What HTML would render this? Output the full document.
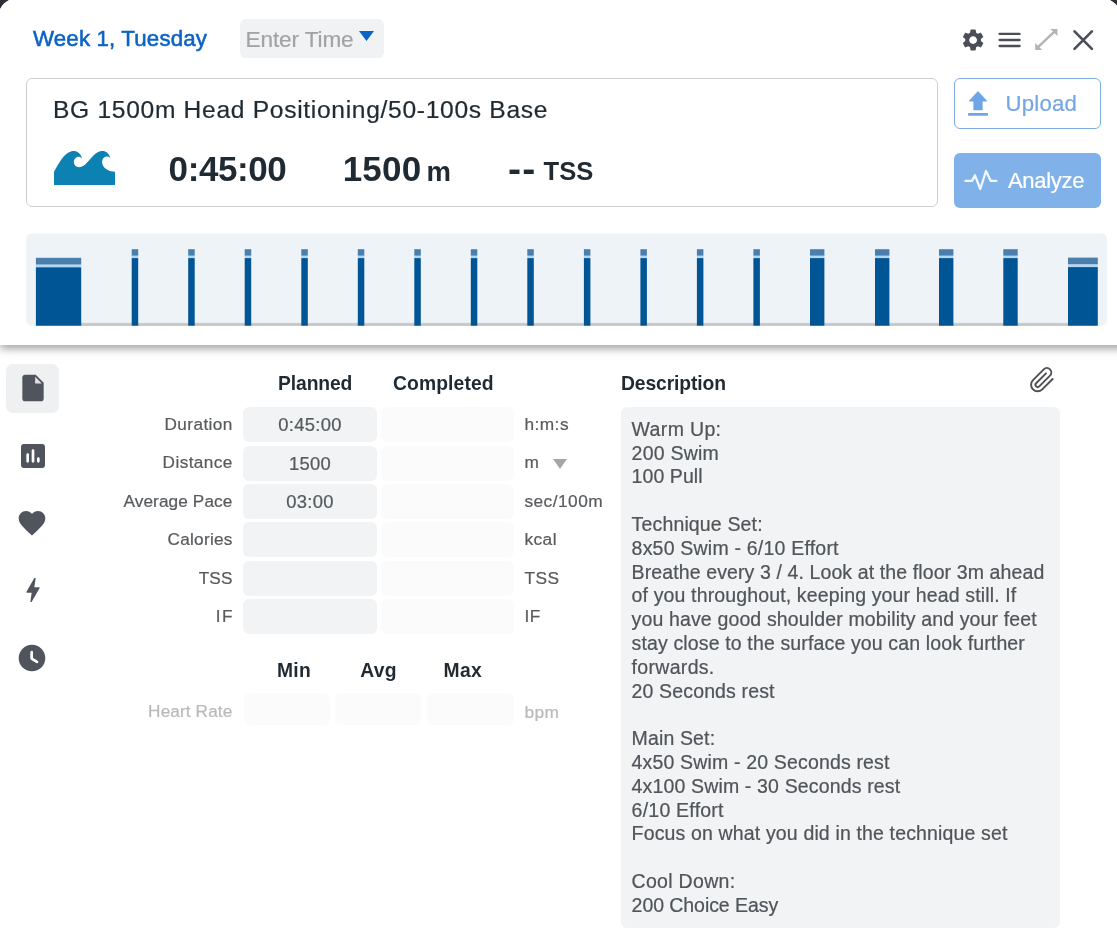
<!DOCTYPE html>
<html lang="en">
<head>
<meta charset="utf-8">
<title>Workout</title>
<style>
*{box-sizing:border-box;margin:0;padding:0}
html,body{width:1117px;height:935px;overflow:hidden;background:#2e2e34}
body{font-family:"Liberation Sans",Arial,sans-serif;color:#1f2a33;position:relative}
.abs{position:absolute}
.lab,.unit,.inp,#desctext,#title,#etime .t,#upload .t,#analyze .t{-webkit-text-stroke-width:.22px}
#modal{position:absolute;left:-2.3px;top:-2.3px;width:1122.9px;height:960px;background:#fff;border-radius:20px 20px 0 0;overflow:hidden}
#wrap{position:absolute;left:2.3px;top:1.3px;width:1120px;height:950px}
#head{position:absolute;left:0;top:0;width:1140px;height:346px;background:#fff;box-shadow:0 4px 8px rgba(0,0,0,.35);z-index:2}
#body{position:absolute;left:0;top:346px;width:1120px;height:604px;background:#fff;z-index:1}
.t{position:absolute;white-space:nowrap;line-height:1}
#week{left:33px;top:28.5px;font-size:22.3px;color:#0b63c5;letter-spacing:.15px;-webkit-text-stroke:.55px #0b63c5}
#etime{left:240px;top:20px;width:144px;height:39px;background:#f0f2f4;border-radius:6px}
#etime .t{left:5.5px;top:10px;font-size:22.6px;color:#a3a3a3;letter-spacing:-.12px}
#card{left:26px;top:79px;width:912px;height:129px;border:1px solid #cfcfcf;border-radius:6px;background:#fff}
#title{left:53px;top:98.5px;font-size:24.6px;letter-spacing:.69px;color:#1f2a33}
.big{font-weight:700;font-size:35px;letter-spacing:-.4px;color:#1f2a33}
#upload{left:954px;top:79px;width:147px;height:51px;border:1px solid #7fadde;border-radius:6px;background:#fff}
#analyze{left:954px;top:154px;width:147px;height:55px;border-radius:6px;background:#80b2e9}
#chart{left:26px;top:234px;width:1082px;height:94px}
.lab{position:absolute;white-space:nowrap;line-height:1;font-size:17.2px;letter-spacing:.12px;color:#585b5e;text-align:right;right:887.6px}
.inp{position:absolute;height:35.1px;border-radius:6px;background:#f1f3f4;text-align:center;font-size:18.4px;color:#555a5e;line-height:35.4px;letter-spacing:.3px}
.cmp{background:#fbfbfb}
.unit{position:absolute;white-space:nowrap;line-height:1;font-size:17.3px;color:#585b5e;left:524.4px;letter-spacing:.47px}
.hd{position:absolute;white-space:nowrap;line-height:1;font-size:19.3px;font-weight:700;color:#1f2a33;letter-spacing:-.1px}
#desc{left:621px;width:439.3px;height:520.6px;background:#f1f3f5;border-radius:6px}
#desctext{position:absolute;left:10.6px;top:0;font-size:19.5px;line-height:24px;color:#50555a;white-space:nowrap;letter-spacing:.3px}
#desctext span{position:absolute;left:0;display:block;height:24px;line-height:24px}
</style>
</head>
<body>
<div id="modal"><div id="wrap">
 <div id="head">
  <div id="week" class="t">Week 1, Tuesday</div>
  <div id="etime" class="abs"><div class="t">Enter Time</div>
   <svg class="abs" style="left:118.5px;top:12px" width="15" height="10" viewBox="0 0 15 10"><path d="M0 0h15L7.5 10z" fill="#0b63c5"/></svg>
  </div>
  <svg class="abs" style="left:960px;top:27.6px" width="26.2" height="26.2" viewBox="0 0 24 24"><path fill="#4b4e57" d="M19.14 12.94c.04-.3.06-.61.06-.94 0-.32-.02-.64-.07-.94l2.030-1.580a.49.49 0 0 0 .12-.61l-1.920-3.320a.488.488 0 0 0-.59-.22l-2.390.96c-.5-.38-1.030-.7-1.620-.94l-.36-2.540a.484.484 0 0 0-.48-.41h-3.840c-.24 0-.43.17-.47.41l-.36 2.540c-.59.24-1.130.57-1.620.94l-2.390-.96c-.22-.08-.47 0-.59.22L2.740 8.870c-.12.21-.08.47.12.61l2.030 1.580c-.05.3-.09.63-.09.940s.02.640.07.940l-2.030 1.580a.49.49 0 0 0-.12.610l1.920 3.320c.12.220.37.290.59.220l2.390-.960c.5.380 1.030.700 1.620.940l.36 2.540c.05.240.24.410.48.410h3.840c.24 0 .44-.17.470-.410l.36-2.540c.59-.24 1.130-.56 1.620-.940l2.390.960c.22.080.47 0 .59-.220l1.920-3.320c.12-.220.070-.470-.12-.610l-2.010-1.580zM12 15.600c-1.980 0-3.600-1.620-3.600-3.600s1.620-3.600 3.600-3.600 3.600 1.620 3.600 3.600-1.620 3.600-3.600 3.600z"/></svg>
  <svg class="abs" style="left:998px;top:33px" width="23" height="16" viewBox="0 0 23 16"><path d="M1.600 1.900H21.600M1.600 8H21.600M1.600 14H21.600" stroke="#4b4e57" stroke-width="2.3" stroke-linecap="round"/></svg>
  <svg class="abs" style="left:1034px;top:28.5px" width="25" height="23" viewBox="0 0 25 23"><path d="M4 19.200L20.400 3.700" stroke="#b3b3b3" stroke-width="2.4"/><path d="M23.400 1V8L16.400 1ZM1.200 22V15L8.200 22Z" fill="#b3b3b3"/></svg>
  <svg class="abs" style="left:1072px;top:29.5px" width="22" height="22" viewBox="0 0 22 22"><path d="M2.500 2.400L19.900 19.800M19.900 2.400L2.500 19.800" stroke="#4b4e57" stroke-width="2.6" stroke-linecap="round"/></svg>
  <div id="card" class="abs"></div>
  <div id="title" class="t">BG 1500m Head Positioning/50-100s Base</div>
  <svg class="abs" style="left:54px;top:151.7px" width="61" height="34.5" viewBox="0 0 61 34" preserveAspectRatio="none"><path d="M0 34V20.4C5 12 9 5 13 2.5C16 0.5 18 0 20 0C23 0 26.5 2 28.2 7.5C26 5 23.5 5 21.5 7C19 9.5 19.5 13 22 15C24.5 16.8 28 16 31 13.5C35 10 38 5 42 2.3C44.5 0.5 46.5 0 48.5 0C52 0 55 2.5 56.3 6.8C54 5 51.5 5 49.5 7C47 10 48 14 51 17C54 19.5 57.5 20.4 61 20.4V34Z" fill="#0c82b3"/></svg>
  <div class="t big" style="left:168.6px;top:152px">0:45:00</div>
  <div class="t big" style="left:342.7px;top:152px;letter-spacing:.2px">1500</div>
  <div class="t" style="left:426.5px;top:158.5px;font-size:27.5px;font-weight:700">m</div>
  <div class="t big" style="left:507.5px;top:152px;letter-spacing:1.1px;font-size:36px;transform:scaleX(1.09);transform-origin:0 0">--</div>
  <div class="t" style="left:543.5px;top:160px;font-size:25.6px;font-weight:700">TSS</div>
  <div id="upload" class="abs">
   <svg class="abs" style="left:13px;top:12px" width="20" height="25" viewBox="0 0 20 25"><path d="M10 1L18.300 10H14V18.700H6V10H1.700Z" fill="#6ea5e6" stroke="#6ea5e6" stroke-width="1.2" stroke-linejoin="round"/><path d="M1.200 23.300H18.800" stroke="#6ea5e6" stroke-width="2.8" stroke-linecap="round"/></svg>
   <div class="t" style="left:50.6px;top:14px;font-size:22.2px;color:#74a7e4;letter-spacing:.18px">Upload</div>
  </div>
  <div id="analyze" class="abs">
   <svg class="abs" style="left:10px;top:16px" width="34" height="24" viewBox="0 0 34 24"><path d="M1.500 11.900H8L11 6.300L16.300 20L22 2L26.800 11.900H32.500" fill="none" stroke="#fff" stroke-width="2.3" stroke-linejoin="round" stroke-linecap="round" opacity=".88"/></svg>
   <div class="t" style="left:54px;top:17px;font-size:22px;color:#fff;letter-spacing:-.3px">Analyze</div>
  </div>
  <div id="chart" class="abs"><svg class="abs" style="left:0;top:0" width="1082" height="94" viewBox="0 0 1082 94"><defs><linearGradient id="gl" x1="0" y1="0" x2="0" y2="1"><stop offset="0" stop-color="#d6d6d6"/><stop offset="1" stop-color="#b9b9b9"/></linearGradient></defs><rect x="0.2" y="0.5" width="1080.8" height="92.2" rx="5.5" fill="#eef3f8"/><rect x="10" y="89.7" width="1060" height="3.0" fill="url(#gl)"/><rect x="9.9" y="24.8" width="45.3" height="6.9" fill="#4a7fad"/><rect x="9.9" y="31.7" width="45.3" height="2.6" fill="#b5d6f0"/><rect x="9.9" y="34.3" width="45.3" height="58.4" fill="#005594"/><rect x="105.7" y="16.2" width="6.5" height="6.6" fill="#4a7fad"/><rect x="105.7" y="22.8" width="6.5" height="2.3" fill="#b5d6f0"/><rect x="105.7" y="25.1" width="6.5" height="67.6" fill="#005594"/><rect x="162.2" y="16.2" width="6.5" height="6.6" fill="#4a7fad"/><rect x="162.2" y="22.8" width="6.5" height="2.3" fill="#b5d6f0"/><rect x="162.2" y="25.1" width="6.5" height="67.6" fill="#005594"/><rect x="218.7" y="16.2" width="6.5" height="6.6" fill="#4a7fad"/><rect x="218.7" y="22.8" width="6.5" height="2.3" fill="#b5d6f0"/><rect x="218.7" y="25.1" width="6.5" height="67.6" fill="#005594"/><rect x="275.3" y="16.2" width="6.5" height="6.6" fill="#4a7fad"/><rect x="275.3" y="22.8" width="6.5" height="2.3" fill="#b5d6f0"/><rect x="275.3" y="25.1" width="6.5" height="67.6" fill="#005594"/><rect x="331.8" y="16.2" width="6.5" height="6.6" fill="#4a7fad"/><rect x="331.8" y="22.8" width="6.5" height="2.3" fill="#b5d6f0"/><rect x="331.8" y="25.1" width="6.5" height="67.6" fill="#005594"/><rect x="388.3" y="16.2" width="6.5" height="6.6" fill="#4a7fad"/><rect x="388.3" y="22.8" width="6.5" height="2.3" fill="#b5d6f0"/><rect x="388.3" y="25.1" width="6.5" height="67.6" fill="#005594"/><rect x="444.8" y="16.2" width="6.5" height="6.6" fill="#4a7fad"/><rect x="444.8" y="22.8" width="6.5" height="2.3" fill="#b5d6f0"/><rect x="444.8" y="25.1" width="6.5" height="67.6" fill="#005594"/><rect x="501.3" y="16.2" width="6.5" height="6.6" fill="#4a7fad"/><rect x="501.3" y="22.8" width="6.5" height="2.3" fill="#b5d6f0"/><rect x="501.3" y="25.1" width="6.5" height="67.6" fill="#005594"/><rect x="557.9" y="16.2" width="6.5" height="6.6" fill="#4a7fad"/><rect x="557.9" y="22.8" width="6.5" height="2.3" fill="#b5d6f0"/><rect x="557.9" y="25.1" width="6.5" height="67.6" fill="#005594"/><rect x="614.4" y="16.2" width="6.5" height="6.6" fill="#4a7fad"/><rect x="614.4" y="22.8" width="6.5" height="2.3" fill="#b5d6f0"/><rect x="614.4" y="25.1" width="6.5" height="67.6" fill="#005594"/><rect x="670.9" y="16.2" width="6.5" height="6.6" fill="#4a7fad"/><rect x="670.9" y="22.8" width="6.5" height="2.3" fill="#b5d6f0"/><rect x="670.9" y="25.1" width="6.5" height="67.6" fill="#005594"/><rect x="727.4" y="16.2" width="6.5" height="6.6" fill="#4a7fad"/><rect x="727.4" y="22.8" width="6.5" height="2.3" fill="#b5d6f0"/><rect x="727.4" y="25.1" width="6.5" height="67.6" fill="#005594"/><rect x="784.0" y="16.2" width="14.4" height="6.6" fill="#4a7fad"/><rect x="784.0" y="22.8" width="14.4" height="2.3" fill="#b5d6f0"/><rect x="784.0" y="25.1" width="14.4" height="67.6" fill="#005594"/><rect x="849.0" y="16.2" width="14.4" height="6.6" fill="#4a7fad"/><rect x="849.0" y="22.8" width="14.4" height="2.3" fill="#b5d6f0"/><rect x="849.0" y="25.1" width="14.4" height="67.6" fill="#005594"/><rect x="913.0" y="16.2" width="14.4" height="6.6" fill="#4a7fad"/><rect x="913.0" y="22.8" width="14.4" height="2.3" fill="#b5d6f0"/><rect x="913.0" y="25.1" width="14.4" height="67.6" fill="#005594"/><rect x="977.3" y="16.2" width="14.4" height="6.6" fill="#4a7fad"/><rect x="977.3" y="22.8" width="14.4" height="2.3" fill="#b5d6f0"/><rect x="977.3" y="25.1" width="14.4" height="67.6" fill="#005594"/><rect x="1042.0" y="24.6" width="29.8" height="6.9" fill="#4a7fad"/><rect x="1042.0" y="31.5" width="29.8" height="2.6" fill="#b5d6f0"/><rect x="1042.0" y="34.1" width="29.8" height="58.6" fill="#005594"/></svg></div>
 </div>
 <div id="body">
<div class="abs" style="left:6px;top:19px;width:53px;height:48.5px;border-radius:7px;background:#eff0f2"></div>
<svg class="abs" style="left:17.0px;top:27.3px" width="32" height="32" viewBox="0 0 24 24" fill="#50545d"><path d="M6 2c-1.1 0-2 .9-2 2v16c0 1.1.9 2 2 2h12c1.1 0 2-.9 2-2V8l-6-6H6z"/><path d="M13.6 3.600v5h5z" fill="#dfe1e6"/></svg>
<svg class="abs" style="left:17.0px;top:94.7px" width="32" height="32" viewBox="0 0 24 24" fill="#50545d"><path d="M19 3H5c-1.1 0-2 .9-2 2v14c0 1.1.9 2 2 2h14c1.1 0 2-.9 2-2V5c0-1.1-.9-2-2-2zM8 17c-.55 0-1-.45-1-1v-5c0-.55.45-1 1-1s1 .45 1 1v5c0 .55-.45 1-1 1zm4 0c-.55 0-1-.45-1-1V8c0-.55.45-1 1-1s1 .45 1 1v8c0 .55-.45 1-1 1zm4 0c-.55 0-1-.45-1-1v-2c0-.55.45-1 1-1s1 .45 1 1v2c0 .55-.45 1-1 1z"/></svg>
<svg class="abs" style="left:15.9px;top:162.0px" width="32" height="32" viewBox="0 0 24 24" fill="#50545d"><path d="M12 21.350l-1.450-1.320C5.400 15.360 2 12.280 2 8.500 2 5.420 4.420 3 7.500 3c1.740 0 3.410.810 4.500 2.090C13.090 3.810 14.760 3 16.500 3 19.580 3 22 5.420 22 8.500c0 3.780-3.400 6.860-8.550 11.540L12 21.350z"/></svg>
<svg class="abs" style="left:17.0px;top:228.8px" width="32" height="32" viewBox="0 0 24 24" fill="#50545d"><path d="M11 21h-1l1-7H7.500c-.580 0-.570-.320-.380-.660.190-.340.050-.080.070-.120C8.480 10.940 10.420 7.540 13 3h1l-1 7h3.500c.490 0 .560.330.470.510l-.070.150C12.960 17.550 11 21 11 21z"/></svg>
<svg class="abs" style="left:16.4px;top:296.8px" width="32" height="32" viewBox="0 0 24 24" fill="#50545d"><path d="M12 2C6.500 2 2 6.500 2 12s4.500 10 10 10 10-4.500 10-10S17.500 2 12 2zm3.550 13.800l-4.080-2.510c-.300-.180-.480-.500-.480-.850V7.750c.010-.410.350-.750.760-.750s.750.340.750.750v4.450l3.840 2.310c.360.220.480.690.260 1.050-.220.350-.690.460-1.050.240z"/><path d="M11.800 7.600v4.900l3.900 2.400" fill="none" stroke="#fff" stroke-width="1.9" stroke-linecap="round" stroke-linejoin="round"/></svg>
<div class="hd" style="left:278px;top:29.0px">Planned</div>
<div class="hd" style="left:393px;top:29.0px;letter-spacing:.12px">Completed</div>
<div class="hd" style="left:621px;top:29.0px">Description</div>
<div class="lab" style="top:70.9px;letter-spacing:0.42px;margin-right:-0.42px">Duration</div>
<div class="inp" style="left:243px;top:62.2px;width:134px">0:45:00</div>
<div class="inp cmp" style="left:381px;top:62.2px;width:132.5px"></div>
<div class="unit" style="top:70.9px">h:m:s</div>
<div class="lab" style="top:109.3px;letter-spacing:0.42px;margin-right:-0.42px">Distance</div>
<div class="inp" style="left:243px;top:100.6px;width:134px">1500</div>
<div class="inp cmp" style="left:381px;top:100.6px;width:132.5px"></div>
<div class="unit" style="top:109.3px">m</div>
<div class="lab" style="top:147.7px;letter-spacing:0.12px;margin-right:-0.12px">Average Pace</div>
<div class="inp" style="left:243px;top:139.0px;width:134px">03:00</div>
<div class="inp cmp" style="left:381px;top:139.0px;width:132.5px"></div>
<div class="unit" style="top:147.7px">sec/100m</div>
<div class="lab" style="top:186.1px;letter-spacing:0.27px;margin-right:-0.27px">Calories</div>
<div class="inp" style="left:243px;top:177.4px;width:134px"></div>
<div class="inp cmp" style="left:381px;top:177.4px;width:132.5px"></div>
<div class="unit" style="top:186.1px">kcal</div>
<div class="lab" style="top:224.5px;letter-spacing:0.12px;margin-right:-0.12px">TSS</div>
<div class="inp" style="left:243px;top:215.8px;width:134px"></div>
<div class="inp cmp" style="left:381px;top:215.8px;width:132.5px"></div>
<div class="unit" style="top:224.5px">TSS</div>
<div class="lab" style="top:262.9px;letter-spacing:1.4px;margin-right:-1.4px">IF</div>
<div class="inp" style="left:243px;top:254.2px;width:134px"></div>
<div class="inp cmp" style="left:381px;top:254.2px;width:132.5px"></div>
<div class="unit" style="top:262.9px">IF</div>
<svg class="abs" style="left:553px;top:113.9px" width="14" height="10" viewBox="0 0 14 10"><path d="M0 0h14L7 10z" fill="#a6a6a6"/></svg>
<div class="hd" style="left:277px;top:316.0px;letter-spacing:.25px">Min</div>
<div class="hd" style="left:360.3px;top:316.0px;letter-spacing:.25px">Avg</div>
<div class="hd" style="left:443.6px;top:316.0px;letter-spacing:.25px">Max</div>
<div class="inp" style="left:244px;top:348.3px;width:85.5px;height:31.5px;background:#fbfbfb"></div>
<div class="inp" style="left:335px;top:348.3px;width:86.0px;height:31.5px;background:#fbfbfb"></div>
<div class="inp" style="left:427px;top:348.3px;width:87.0px;height:31.5px;background:#fbfbfb"></div>
<div class="lab" style="top:358.4px;color:#b9b9b9">Heart Rate</div>
<div class="unit" style="top:358.6px;color:#b9b9b9">bpm</div>
<svg class="abs" style="left:1026.6px;top:19.7px" width="30" height="30" viewBox="0 0 24 24" fill="none" stroke="#4f5157" stroke-width="1.55" stroke-linecap="round"><path d="M20.500 11.200l-8.300 8.300a5.200 5.200 0 0 1-7.400-7.400l8.600-8.600a3.500 3.500 0 0 1 5 5l-8.600 8.600a1.750 1.750 0 0 1-2.500-2.500l7.900-7.900"/></svg>
<div id="desc" class="abs" style="top:62.3px"><div id="desctext"><span style="top:9.7px;letter-spacing:0.34px">Warm Up:</span><span style="top:33.7px;letter-spacing:0.23px">200 Swim</span><span style="top:56.7px;letter-spacing:0.07px">100 Pull</span><span style="top:104.7px;letter-spacing:0.15px">Technique Set:</span><span style="top:128.7px;letter-spacing:0.21px">8x50 Swim - 6/10 Effort</span><span style="top:152.7px;letter-spacing:0.11px">Breathe every 3 / 4. Look at the floor 3m ahead</span><span style="top:175.7px;letter-spacing:0.14px">of you throughout, keeping your head still. If</span><span style="top:199.7px;letter-spacing:0.14px">you have good shoulder mobility and your feet</span><span style="top:223.7px;letter-spacing:0.14px">stay close to the surface you can look further</span><span style="top:247.7px;letter-spacing:0.31px">forwards.</span><span style="top:271.7px;letter-spacing:0.14px">20 Seconds rest</span><span style="top:318.7px;letter-spacing:0.14px">Main Set:</span><span style="top:342.7px;letter-spacing:0.16px">4x50 Swim - 20 Seconds rest</span><span style="top:366.7px;letter-spacing:0.15px">4x100 Swim - 30 Seconds rest</span><span style="top:390.7px;letter-spacing:0.23px">6/10 Effort</span><span style="top:413.7px;letter-spacing:0.15px">Focus on what you did in the technique set</span><span style="top:461.7px;letter-spacing:0.30px">Cool Down:</span><span style="top:485.7px;letter-spacing:-0.06px">200 Choice Easy</span></div></div>
 </div>
</div></div>
</body>
</html>
